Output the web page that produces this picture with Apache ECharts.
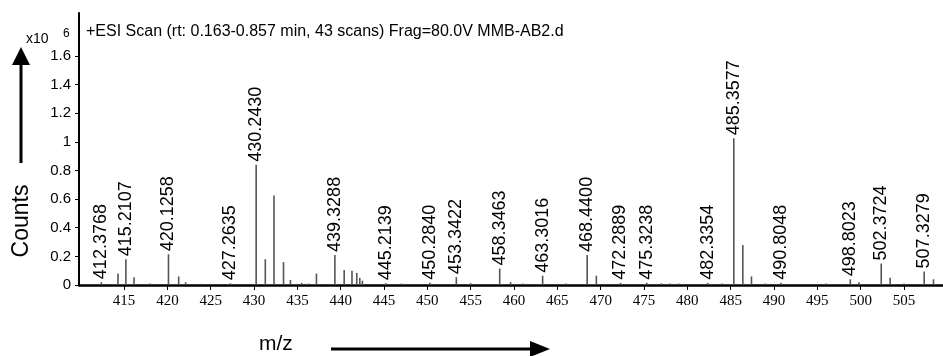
<!DOCTYPE html>
<html>
<head>
<meta charset="utf-8">
<script src="https://cdn.jsdelivr.net/npm/echarts@6/dist/echarts.min.js"></script>
<style>
  html, body { margin: 0; padding: 0; background: #fff; }
  #chart { width: 943px; height: 356px; }
</style>
</head>
<body>
<div id="chart"></div>
<script>
// labelled peaks (m/z, counts x10^6)
const peakMz = [412.3768, 415.2107, 420.1258, 427.2635, 430.2430, 439.3288, 445.2139, 450.2840,
  453.3422, 458.3463, 463.3016, 468.4400, 472.2889, 475.3238, 482.3354, 485.3577, 490.8048,
  498.8023, 502.3724, 507.3279];
const peakInt = [0.02, 0.18, 0.215, 0.012, 0.84, 0.21, 0.012, 0.015, 0.055, 0.115, 0.065, 0.21,
  0.015, 0.015, 0.015, 1.025, 0.015, 0.04, 0.15, 0.095];

// unlabelled peaks
const minorMz = [414.3, 416.15, 418.0, 421.3, 422.1, 424.0, 431.3, 432.3, 433.4, 434.2, 435.5, 436.3,
  437.2, 440.4, 441.3, 441.85, 442.2, 442.5, 447.0, 455.0, 459.6, 461.0, 466.0, 469.5, 477.0, 478.0,
  479.0, 484.0, 486.4, 487.4, 489.0, 493.0, 496.0, 499.8, 503.4, 505.0, 508.4];
const minorInt = [0.08, 0.055, 0.01, 0.06, 0.02, 0.008, 0.18, 0.625, 0.16, 0.035, 0.015, 0.01,
  0.08, 0.105, 0.10, 0.085, 0.05, 0.03, 0.01, 0.012, 0.02, 0.01, 0.01, 0.065, 0.012, 0.01,
  0.01, 0.01, 0.28, 0.06, 0.01, 0.008, 0.01, 0.02, 0.05, 0.01, 0.04];

const xTicks = [415, 420, 425, 430, 435, 440, 445, 450, 455, 460, 465, 470, 475, 480, 485, 490, 495, 500, 505];
const yTicks = [0, 0.2, 0.4, 0.6, 0.8, 1, 1.2, 1.4, 1.6];

const titleText = '+ESI Scan (rt: 0.163-0.857 min, 43 scans) Frag=80.0V MMB-AB2.d';

const chart = echarts.init(document.getElementById('chart'), null, {renderer: 'canvas'});

const data = [];
minorMz.forEach((x, i) => data.push({value: [x, minorInt[i]]}));
peakMz.forEach((x, i) => data.push({
  value: [x, peakInt[i]],
  label: {show: true, formatter: x.toFixed(4)}
}));

const option = {
  animation: false,
  title: {
    text: titleText,
    left: 81,
    top: 19,
    textStyle: {fontFamily: 'Liberation Sans', fontSize: 16, fontWeight: 'normal', color: '#000'}
  },
  grid: {left: 79, right: 0, top: 13, bottom: 71, containLabel: false},
  xAxis: {
    type: 'value',
    min: 409.8,
    max: 509.5,
    splitLine: {show: false},
    axisLine: {onZero: false, lineStyle: {color: '#000', width: 2.5}},
    axisTick: {customValues: xTicks, length: 5, lineStyle: {color: '#000', width: 1}},
    axisLabel: {
      customValues: xTicks, margin: 9, color: '#000',
      fontFamily: 'Liberation Sans Narrow', fontSize: 15
    }
  },
  yAxis: {
    type: 'value',
    min: 0,
    max: 1.9,
    splitLine: {show: false},
    axisLine: {show: true, lineStyle: {color: '#000', width: 2}},
    axisTick: {show: true, customValues: yTicks, length: 4, lineStyle: {color: '#000'}},
    axisLabel: {
      customValues: yTicks, margin: 8, color: '#000',
      fontFamily: 'Liberation Sans', fontSize: 15,
      formatter: v => String(Math.round(v * 10) / 10)
    }
  },
  series: [{
    type: 'bar',
    barWidth: 1.6,
    itemStyle: {color: '#555'},
    label: {
      show: false,
      position: 'top',
      rotate: 90,
      align: 'left',
      verticalAlign: 'middle',
      distance: 3,
      fontFamily: 'Liberation Sans',
      fontSize: 18,
      color: '#000'
    },
    data: data
  }],
  graphic: [
    // y-axis arrow
    {type: 'line', shape: {x1: 21, y1: 163, x2: 21, y2: 62}, style: {stroke: '#000', lineWidth: 3}},
    {type: 'polygon', shape: {points: [[21, 47], [12, 65], [30, 65]]}, style: {fill: '#000'}},
    {type: 'text', left: 26, top: 32, style: {text: 'x10', font: '14px Liberation Sans', fill: '#000'}},
    {type: 'text', left: 63, top: 28, style: {text: '6', font: '12px Liberation Sans', fill: '#000'}},
    {
      type: 'text', x: 22, y: 221, rotation: Math.PI / 2,
      style: {text: 'Counts', font: '23px Liberation Sans', fill: '#000', align: 'center', verticalAlign: 'middle'}
    },
    // x-axis arrow
    {type: 'text', left: 259, top: 334, style: {text: 'm/z', font: '21px Liberation Sans', fill: '#000'}},
    {type: 'line', shape: {x1: 331, y1: 349, x2: 532, y2: 349}, style: {stroke: '#000', lineWidth: 3}},
    {type: 'polygon', shape: {points: [[550, 349], [530, 341], [530, 357]]}, style: {fill: '#000'}}
  ]
};

chart.setOption(option);
</script>
</body>
</html>
